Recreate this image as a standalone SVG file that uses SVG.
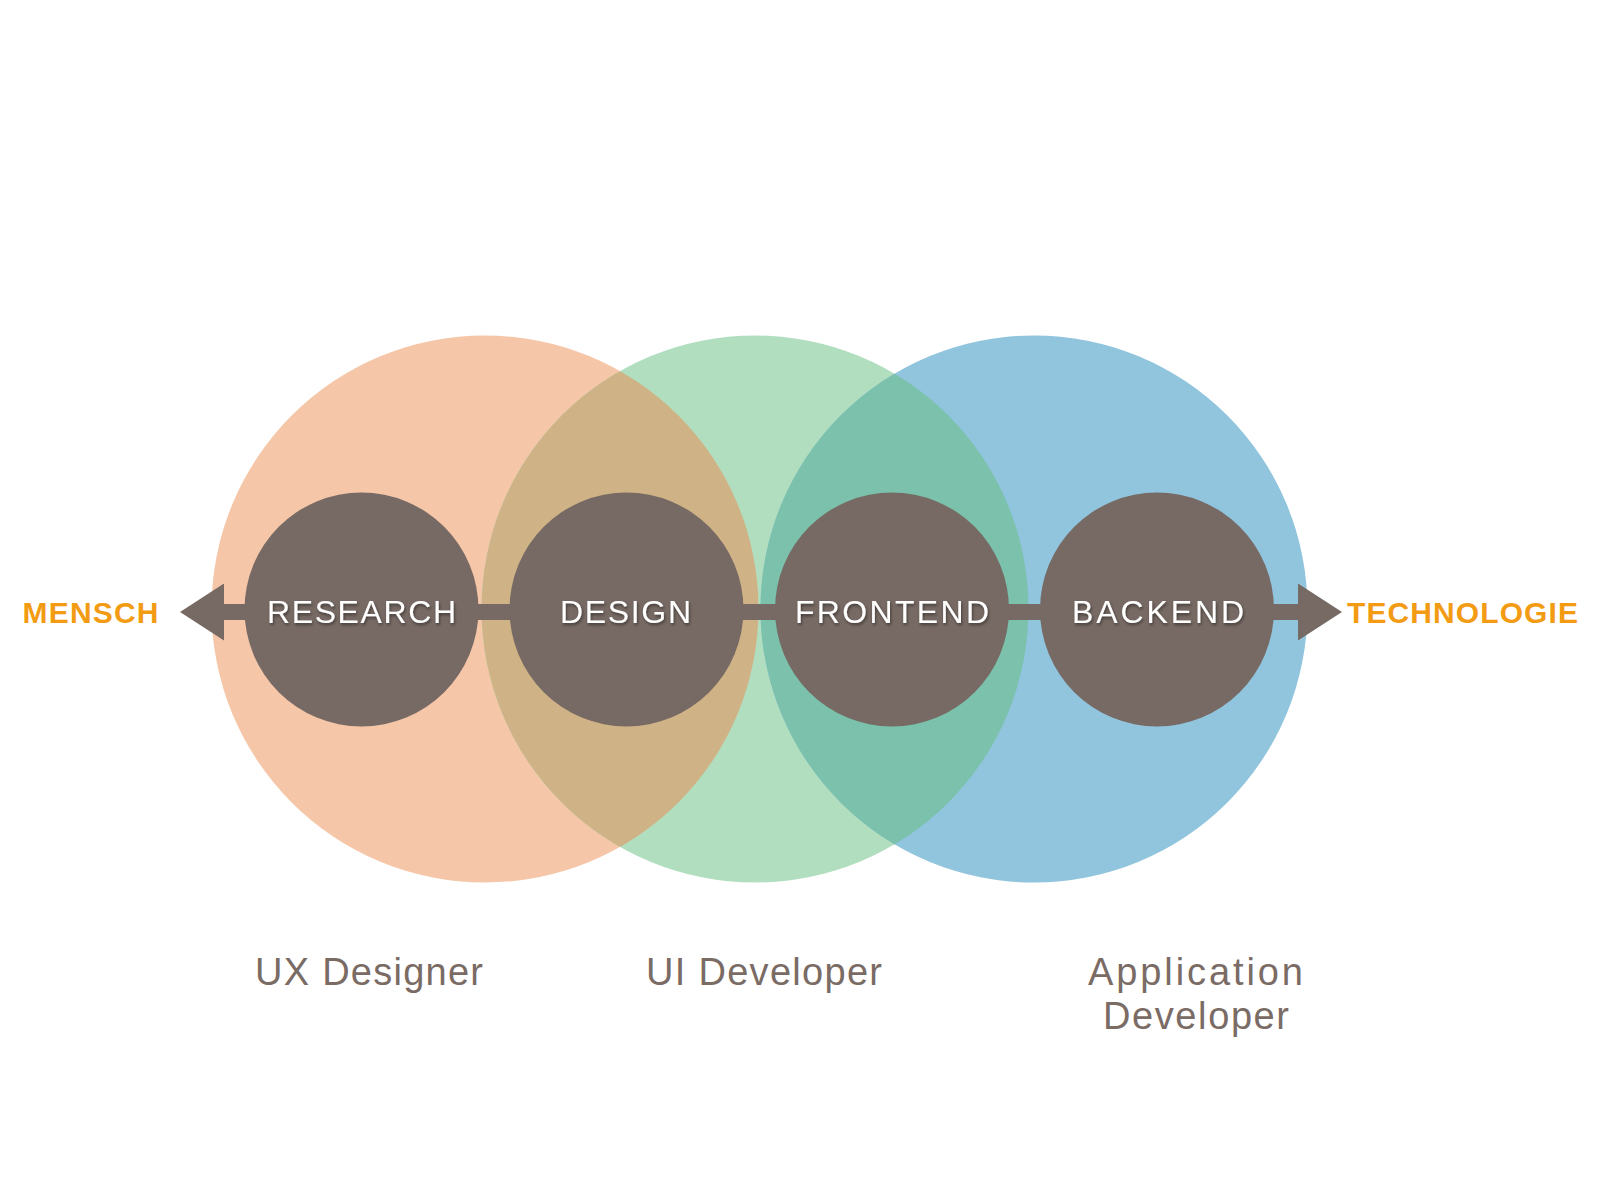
<svg xmlns="http://www.w3.org/2000/svg" width="1600" height="1200" viewBox="0 0 1600 1200">
<style>
.node{fill:#776A64}
.ntext{font-family:"Liberation Sans",Arial,sans-serif;font-size:32px;fill:#FFFFFF;filter:url(#shadow)}
.pole{font-family:"Liberation Sans",Arial,sans-serif;font-weight:bold;font-size:30px;fill:#F39B13}
.role{font-family:"Liberation Sans",Arial,sans-serif;font-size:38px;fill:#7A6B65}
.conn{stroke:#776A64;stroke-width:16;fill:none}
</style>
<defs>
<filter id="shadow" x="-20%" y="-50%" width="140%" height="200%">
<feDropShadow dx="1" dy="2" stdDeviation="1.8" flood-color="#000" flood-opacity="0.45"/>
</filter>
<marker id="head" markerUnits="userSpaceOnUse" markerWidth="44" markerHeight="57" refX="0" refY="28.5" orient="auto" viewBox="0 0 44 57">
<path d="M0,0 L44,28.5 L0,57 Z" fill="#776A64"/>
</marker>
<clipPath id="clipOrange"><circle cx="485" cy="609" r="273.5"/></clipPath>
<clipPath id="clipGreen"><circle cx="755" cy="609" r="273.5"/></clipPath>
</defs>
<rect width="1600" height="1200" fill="#FFFFFF"/>
<g id="roles">
<circle id="role-ux" cx="485" cy="609" r="273.5" fill="#F5C6A8"/>
<circle id="role-ui" cx="755" cy="609" r="273.5" fill="#B2DEC0"/>
<circle id="role-app" cx="1034" cy="609" r="273.5" fill="#91C4DD"/>
<circle cx="755" cy="609" r="273.5" fill="#CFB386" clip-path="url(#clipOrange)"/>
<circle cx="1034" cy="609" r="273.5" fill="#7BC1AB" clip-path="url(#clipGreen)"/>
</g>
<g id="connectors">
<line class="conn" x1="300" y1="612" x2="224" y2="612" marker-end="url(#head)"/>
<line class="conn" x1="361" y1="612" x2="627" y2="612"/>
<line class="conn" x1="627" y1="612" x2="892" y2="612"/>
<line class="conn" x1="892" y1="612" x2="1157" y2="612"/>
<line class="conn" x1="1200" y1="612" x2="1298" y2="612" marker-end="url(#head)"/>
</g>
<g id="node-research">
<circle class="node" cx="361.5" cy="609.5" r="117"/>
<text class="ntext" x="267" y="622.5" textLength="189">RESEARCH</text>
</g>
<g id="node-design">
<circle class="node" cx="626.5" cy="609.5" r="117"/>
<text class="ntext" x="560" y="622.5" textLength="131">DESIGN</text>
</g>
<g id="node-frontend">
<circle class="node" cx="892" cy="609.5" r="117"/>
<text class="ntext" x="795" y="622.5" textLength="194">FRONTEND</text>
</g>
<g id="node-backend">
<circle class="node" cx="1157" cy="609.5" r="117"/>
<text class="ntext" x="1072" y="622.5" textLength="172">BACKEND</text>
</g>
<g id="pole-mensch">
<text class="pole" x="22.5" y="622.5" textLength="136">MENSCH</text>
</g>
<g id="pole-technologie">
<text class="pole" x="1347" y="622.5" textLength="231">TECHNOLOGIE</text>
</g>
<g id="labels">
<text class="role" x="255" y="985" textLength="228">UX Designer</text>
<text class="role" x="646" y="985" textLength="236">UI Developer</text>
<text class="role" x="1088" y="985" textLength="215">Application</text>
<text class="role" x="1103" y="1029" textLength="186">Developer</text>
</g>
</svg>
